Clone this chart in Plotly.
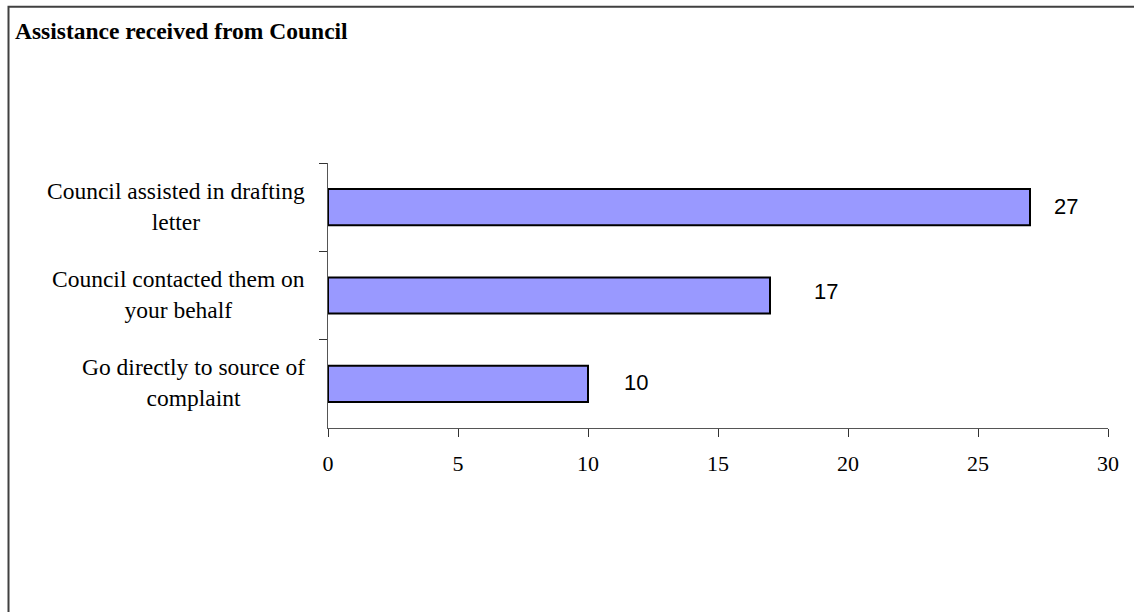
import plotly.graph_objects as go

# ---- data ----
categories = [
    "Council assisted in drafting<br>letter",
    "Council contacted them on<br>your behalf",
    "Go directly to source of<br>complaint",
]
values = [27, 17, 10]
x_ticks = [0, 5, 10, 15, 20, 25, 30]
title_text = "Assistance received from Council"

# ---- styling / layout ----
W, H = 1134, 612
L, R, T, B = 328, 26, 163, 184
label_xshift = [36, 56, 48]      # horizontal offset of value labels (px)
label_yshift = [1, 4, 1]

fig = go.Figure()
fig.add_trace(go.Bar(
    x=values,
    y=categories,
    orientation="h",
    marker=dict(color="#9999FF", line=dict(color="#000000", width=2)),
    hoverinfo="skip",
))

annotations = []
for cat, val, dx, dy in zip(categories, values, label_xshift, label_yshift):
    annotations.append(dict(
        x=val, y=cat, xref="x", yref="y", text=str(val), showarrow=False,
        xanchor="center", yanchor="middle", xshift=dx, yshift=dy,
        font=dict(family="Liberation Sans, Arial", size=22, color="#000000"),
    ))
    annotations.append(dict(
        x=0, y=cat, xref="paper", yref="y", text=cat, showarrow=False,
        xanchor="right", yanchor="middle", align="center", xshift=-21, yshift=1,
        font=dict(family="Liberation Serif, Times New Roman", size=23.5, color="#000000"),
    ))

pw = W - L - R
ph = H - T - B
def px_x(p):
    return (p - L) / pw
def px_y(p):
    return (H - B - p) / ph

frame_path = "M {a},{b} L {a},{c} L {d},{c}".format(
    a=px_x(8.5), b=px_y(640), c=px_y(6.7), d=px_x(1160))

fig.update_layout(
    width=W, height=H,
    margin=dict(l=L, r=R, t=T, b=B, pad=0),
    paper_bgcolor="#FFFFFF",
    plot_bgcolor="#FFFFFF",
    showlegend=False,
    bargap=0.59,
    title=dict(
        text=title_text, xref="container", yref="container",
        x=15 / W, xanchor="left", y=1 - 31 / H, yanchor="middle",
        font=dict(family="Liberation Serif, Times New Roman", size=23.5, color="#000000", weight="bold"),
    ),
    xaxis=dict(
        range=[0, 30], tickvals=x_ticks, ticktext=[str(v) for v in x_ticks],
        showgrid=False, zeroline=False,
        showline=True, linecolor="#555555", linewidth=1,
        ticks="outside", ticklen=8, tickcolor="#333333", tickwidth=1,
        tickfont=dict(family="Liberation Serif, Times New Roman", size=22, color="#000000"),
        ticklabelstandoff=8,
    ),
    yaxis=dict(
        type="category", categoryorder="array", categoryarray=categories,
        range=[2.5, -0.5],
        showgrid=False, zeroline=False,
        showline=True, linecolor="#555555", linewidth=1,
        ticks="outside", ticklen=8, tickcolor="#333333", tickwidth=1,
        tickson="boundaries", showticklabels=False,
    ),
    annotations=annotations,
    shapes=[dict(type="path", path=frame_path, xref="paper", yref="paper",
                 line=dict(color="#404040", width=2), layer="above")],
)

fig.write_html(
    "out.html",
    config={"displayModeBar": False, "staticPlot": True},
    post_script="document.body.style.margin='0';document.body.style.overflow='hidden';",
)
